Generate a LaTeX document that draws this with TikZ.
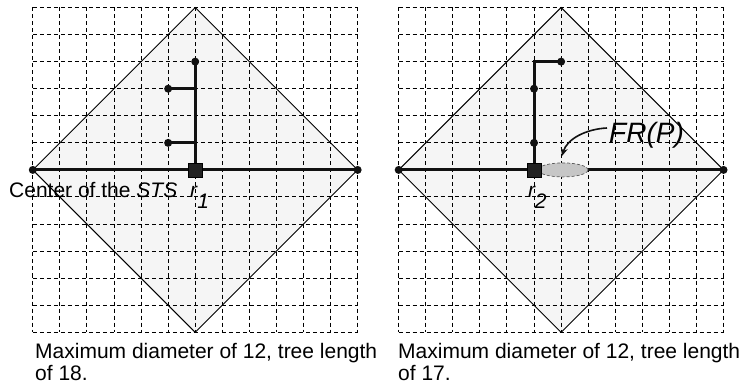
\documentclass[tikz,border=0pt]{standalone}
\usepackage{fontspec}
\setmainfont{Liberation Sans}
\usetikzlibrary{arrows.meta,shapes.geometric}
\definecolor{dfill}{RGB}{245,245,245}
\definecolor{ink}{RGB}{17,17,17}
\definecolor{sqfill}{RGB}{34,34,34}
\definecolor{ellfill}{RGB}{198,198,198}
\begin{document}
\begin{tikzpicture}[x=1pt,y=-1pt,
  gridline/.style={dash pattern=on 4pt off 3pt, line width=1pt, draw=black},
  diamondedge/.style={draw=black, line width=0.9pt},
  treeline/.style={draw=ink, line width=3pt},
  dot/.style={circle, fill=ink, inner sep=0pt, minimum size=8pt},
  root/.style={rectangle, fill=sqfill, draw=black, line width=0.5pt, inner sep=0pt, minimum size=14pt},
  caption/.style={font=\fontsize{21}{22}\selectfont, inner sep=0pt, anchor=base west},
  frlabel/.style={font=\fontsize{28}{30}\selectfont\itshape, inner sep=0pt, anchor=base west},
  region/.style={fill=ellfill, draw=black!65, dash pattern=on 3pt off 2pt, line width=0.7pt},
  pointer/.style={draw=ink, line width=1.6pt, -{Stealth[length=8pt,width=7pt]}},
]
\useasboundingbox (0,0) rectangle (745,385);
\def\c{27.07}
% diamonds and grids
\foreach \xo in {32.8,398.7}{
  \fill[dfill] (\xo+6*\c,7.5) -- (\xo+12*\c,169.92) -- (\xo+6*\c,332.34) -- (\xo,169.92) -- cycle;
  \foreach \i in {0,...,12}{
    \draw[gridline] (\xo+\i*\c,7.5) -- (\xo+\i*\c,332.34);
    \draw[gridline] (\xo,7.5+\i*\c) -- (\xo+12*\c,7.5+\i*\c);
  }
  \draw[diamondedge] (\xo+6*\c,7.5) -- (\xo+12*\c,169.92) -- (\xo+6*\c,332.34) -- (\xo,169.92) -- cycle;
}
% left tree coordinates
\coordinate (lL) at (32.8,169.92);
\coordinate (lR) at (357.64,169.92);
\coordinate (lC) at (195.22,169.92);
\coordinate (lT) at (195.22,61.64);
\coordinate (lJ1) at (195.22,88.71);
\coordinate (lJ2) at (195.22,142.85);
\coordinate (lB1) at (168.15,88.71);
\coordinate (lB2) at (168.15,142.85);
% right tree coordinates
\coordinate (rL) at (398.7,169.92);
\coordinate (rR) at (723.54,169.92);
\coordinate (rC) at (534.05,169.92);
\coordinate (rK) at (534.05,61.64);
\coordinate (rT) at (561.12,61.64);
\coordinate (rD1) at (534.05,88.71);
\coordinate (rD2) at (534.05,142.85);
\coordinate (frs) at (607,128);
\coordinate (tip) at (562,156);
% left tree edges
\draw[treeline] (lL) -- (lR);
\draw[treeline] (lC) -- (lT);
\draw[treeline] (lJ1) -- (lB1);
\draw[treeline] (lJ2) -- (lB2);
% right tree edges
\draw[treeline] (rL) -- (rR);
\draw[treeline] (rC) -- (rK) -- (rT);
% FR(P) region
\node[region, ellipse, minimum width=50pt, minimum height=14pt, inner sep=0pt] (ell) at (563,169.92) {};
\draw[pointer] (frs) .. controls (586,129) and (567,139) .. (tip);
% dots
\node[dot] (dlL) at (lL) {};
\node[dot] (dlR) at (lR) {};
\node[dot] (dlT) at (lT) {};
\node[dot] (dlB1) at (lB1) {};
\node[dot] (dlB2) at (lB2) {};
\node[dot] (drL) at (rL) {};
\node[dot] (drR) at (rR) {};
\node[dot] (drT) at (rT) {};
\node[dot] (drD1) at (rD1) {};
\node[dot] (drD2) at (rD2) {};
% roots
\node[root] (r1sq) at (lC) {};
\node[root] (r2sq) at (rC) {};
% labels
\node[caption] (ctr) at (9,198) {Center of the \textit{STS}};
\node[caption] (r1) at (190,198) {\textit{r}\kern-0.5pt\raisebox{-11pt}{\textit{1}}};
\node[caption] (r2) at (528,197) {\textit{r}\kern-1pt\raisebox{-12pt}{\textit{2}}};
\node[frlabel] (fr) at (609,143) {FR(P)};
\node[caption] (capL1) at (35,358) {Maximum diameter of 12, tree length};
\node[caption] (capL2) at (35,380) {of 18.};
\node[caption] (capR1) at (398,358) {Maximum diameter of 12, tree length};
\node[caption] (capR2) at (398,380) {of 17.};
\end{tikzpicture}
\end{document}
